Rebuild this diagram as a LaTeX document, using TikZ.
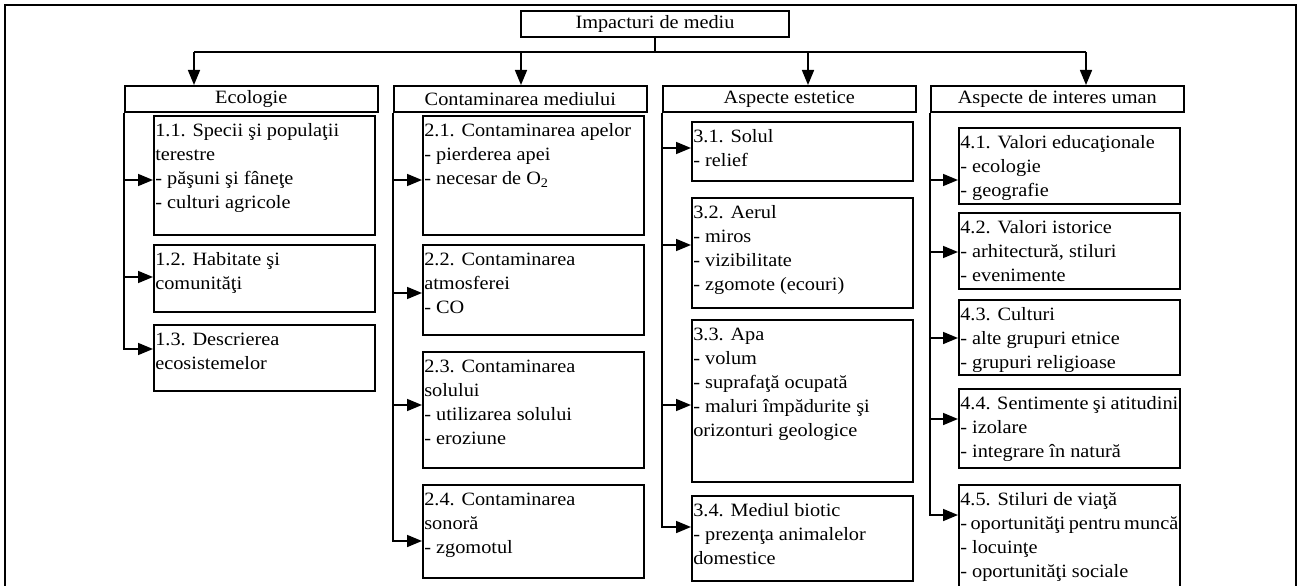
\documentclass[tikz,border=0pt]{standalone}
\usepackage{fontspec}
\setmainfont{Liberation Serif}[FakeStretch=1.08]
\usetikzlibrary{arrows.meta,positioning}
\newcommand{\celltext}[2]{\parbox[t][#1pt][t]{218pt}{\rule{0pt}{21pt}#2}}

\begin{document}
\begin{tikzpicture}[x=1pt, y=-1pt,
  font=\fontsize{18.8}{24}\selectfont,
  line/.style={line width=1.6pt},
  arr/.style={line width=1.6pt, -{Triangle[length=15pt, width=12pt]}},
  head/.style={draw, line width=1.6pt, anchor=north west, minimum width=253pt, minimum height=26pt, inner sep=0pt},
  cell/.style={draw, line width=1.6pt, anchor=north west, inner xsep=1.5pt, inner ysep=0pt}]

  \useasboundingbox (0,0) rectangle (1301,586);
  % Frame
  \draw[line width=2.6pt] (5,600) -- (5,5) -- (1296,5) -- (1296,600);

  % Top and headers
  \node[draw, line width=1.6pt, minimum width=268pt, minimum height=26pt, inner sep=0pt, anchor=north] (top) at (655,10) {Impacturi de mediu};
  \node[head] (hd1) at (124,85) {Ecologie};
  \node[head] (hd2) at (393,85) {Contaminarea mediului};
  \node[head] (hd3) at (662,85) {Aspecte estetice};
  \node[head] (hd4) at (930,85) {Aspecte de interes uman};

  % Ecologie
  \node[cell] (b11) at (153,115) {\celltext{119}{1.1. Specii şi populaţii\\terestre\\- păşuni şi fâneţe\\- culturi agricole}};
  \node[cell] (b12) at (153,244) {\celltext{67}{1.2. Habitate şi\\comunităţi}};
  \node[cell] (b13) at (153,324) {\celltext{66}{1.3. Descrierea\\ecosistemelor}};

  % Contaminarea mediului
  \node[cell] (b21) at (422,115) {\celltext{119}{2.1. Contaminarea apelor\\- pierderea apei\\- necesar de O\textsubscript{2}}};
  \node[cell] (b22) at (422,244) {\celltext{90}{2.2. Contaminarea\\atmosferei\\- CO}};
  \node[cell] (b23) at (422,351) {\celltext{116}{2.3. Contaminarea\\solului\\- utilizarea solului\\- eroziune}};
  \node[cell] (b24) at (422,484) {\celltext{93}{2.4. Contaminarea\\sonoră\\- zgomotul}};

  % Aspecte estetice
  \node[cell] (b31) at (691,121) {\celltext{59}{3.1. Solul\\- relief}};
  \node[cell] (b32) at (691,197) {\celltext{110}{3.2. Aerul\\- miros\\- vizibilitate\\- zgomote (ecouri)}};
  \node[cell] (b33) at (691,319) {\celltext{162}{3.3. Apa\\- volum\\- suprafaţă ocupată\\- maluri împădurite şi\\orizonturi geologice}};
  \node[cell] (b34) at (691,495) {\celltext{85}{3.4. Mediul biotic\\- prezenţa animalelor\\domestice}};

  % Aspecte de interes uman
  \node[cell] (b41) at (958,127) {\celltext{76}{4.1. Valori educaţionale\\- ecologie\\- geografie}};
  \node[cell] (b42) at (958,212) {\celltext{76}{4.2. Valori istorice\\- arhitectură, stiluri\\- evenimente}};
  \node[cell] (b43) at (958,299) {\celltext{75}{4.3. Culturi\\- alte grupuri etnice\\- grupuri religioase}};
  \node[cell] (b44) at (958,388) {\celltext{79}{4.4. Sentimente şi atitudini\\- izolare\\- integrare în natură}};
  \node[cell] (b45) at (958,484) {\celltext{116}{4.5. Stiluri de viaţă\\- oportunităţi pentru muncă\\- locuinţe\\- oportunităţi sociale}};

  % Top connectors
  \coordinate (hub) at (655,52);
  \coordinate (t1) at (194,52);
  \coordinate (t2) at (521,52);
  \coordinate (t3) at (808,52);
  \coordinate (t4) at (1086,52);
  \draw[line] (top) -- (hub);
  \draw[line] (t1) -- (t4);
  \draw[arr] (t1) -- (t1 |- hd1.north);
  \draw[arr] (t2) -- (t2 |- hd2.north);
  \draw[arr] (t3) -- (t3 |- hd3.north);
  \draw[arr] (t4) -- (t4 |- hd4.north);

  % Column connectors
  \draw[arr] (hd1.south west) |- ([yshift=-25pt]b13.north west);
  \foreach \b/\o in {b11/65, b12/33}
    \draw[arr] ([yshift=-\o pt]\b.north west -| hd1.south west) -- ([yshift=-\o pt]\b.north west);

  \draw[arr] (hd2.south west) |- ([yshift=-57pt]b24.north west);
  \foreach \b/\o in {b21/65, b22/49, b23/54}
    \draw[arr] ([yshift=-\o pt]\b.north west -| hd2.south west) -- ([yshift=-\o pt]\b.north west);

  \draw[arr] (hd3.south west) |- ([yshift=-32pt]b34.north west);
  \foreach \b/\o in {b31/27, b32/48, b33/86}
    \draw[arr] ([yshift=-\o pt]\b.north west -| hd3.south west) -- ([yshift=-\o pt]\b.north west);

  \draw[arr] (hd4.south west) |- ([yshift=-31pt]b45.north west);
  \foreach \b/\o in {b41/53, b42/40, b43/39, b44/31}
    \draw[arr] ([yshift=-\o pt]\b.north west -| hd4.south west) -- ([yshift=-\o pt]\b.north west);
\end{tikzpicture}
\end{document}
